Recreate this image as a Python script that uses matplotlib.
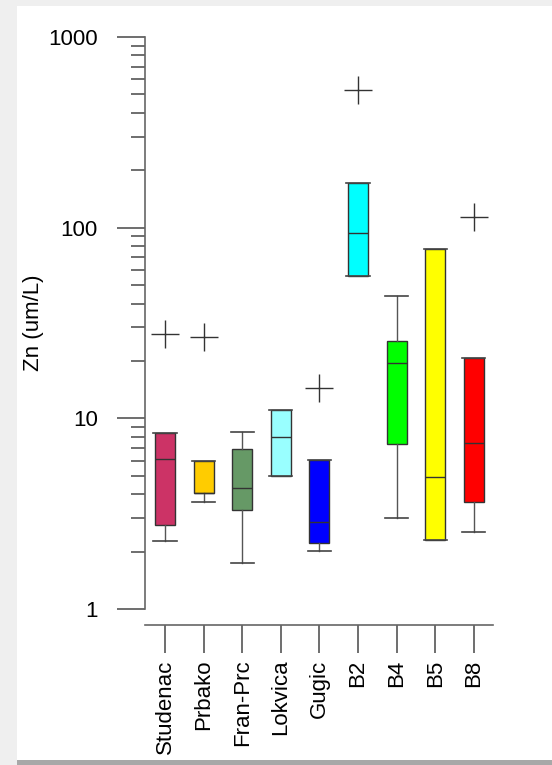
import matplotlib.pyplot as plt
from matplotlib.patches import Rectangle
from matplotlib.ticker import LogLocator, NullFormatter

plt.rcParams['font.family'] = ['Liberation Sans', 'DejaVu Sans']

# Zn summary per site (um/L)
sites = ['Studenac', 'Prbako', 'Fran-Prc', 'Lokvica', 'Gugic', 'B2', 'B4', 'B5', 'B8']
q1 = [2.75, 4.06, 3.31, 5.01, 2.21, 55.7, 7.35, 2.31, 3.66]
med = [6.11, 4.06, 4.30, 8.03, 2.85, 94.2, 19.4, 4.91, 7.44]
q3 = [8.42, 5.98, 6.89, 11.1, 6.03, 172, 25.5, 77.3, 20.8]
whis_lo = [2.27, 3.64, 1.74, 5.01, 2.01, 55.7, 3.01, 2.31, 2.54]
whis_hi = [8.42, 5.98, 8.5, 11.1, 6.03, 172, 43.6, 77.3, 20.8]
outliers = [[27.7], [26.7], [], [], [14.4], [526], [], [], [114]]
colors = ['#cc3366', '#ffcc00', '#669966', '#99ffff', '#0000ff',
          '#00ffff', '#00ff00', '#ffff00', '#ff0000']

stats = []
for i, s in enumerate(sites):
    stats.append({'label': s, 'q1': q1[i], 'med': med[i], 'q3': q3[i],
                  'whislo': whis_lo[i], 'whishi': whis_hi[i],
                  'fliers': outliers[i]})

fig = plt.figure(figsize=(5.52, 7.65), dpi=100)

# grey frame around the white card
fig.patches.append(Rectangle((0, 0), 1, 1, transform=fig.transFigure,
                             facecolor='#efefef', edgecolor='none', zorder=-3))
fig.patches.append(Rectangle((17 / 552, 5 / 765), 1, 1 - 11 / 765,
                             transform=fig.transFigure, facecolor='white',
                             edgecolor='none', zorder=-2))
fig.patches.append(Rectangle((17 / 552, 0), 1, 5 / 765, transform=fig.transFigure,
                             facecolor='#a8a8a8', edgecolor='none', zorder=-2))

ax = fig.add_axes([145 / 552, 156 / 765, 348 / 552, 572 / 765])
ax.patch.set_alpha(0)

bp = ax.bxp(stats, positions=range(1, len(sites) + 1), widths=0.52,
            capwidths=0.6, patch_artist=True, showfliers=True,
            boxprops=dict(edgecolor='#333333', linewidth=1.0),
            medianprops=dict(color='#333333', linewidth=1.0),
            whiskerprops=dict(color='#555555', linewidth=1.0),
            capprops=dict(color='#444444', linewidth=1.2),
            flierprops=dict(marker='+', markersize=20, markeredgewidth=1.0,
                            markeredgecolor='#333333', linestyle='none'))
for box, c in zip(bp['boxes'], colors):
    box.set_facecolor(c)

ax.set_yscale('log')
ax.set_ylim(1, 1000)
ax.set_xlim(0.48, 9.5)
ax.set_yticks([1, 10, 100, 1000], ['1', '10', '100', '1000'])
ax.yaxis.set_minor_locator(LogLocator(base=10, subs=range(2, 10)))
ax.yaxis.set_minor_formatter(NullFormatter())
ax.set_xticks(range(1, len(sites) + 1), sites)

ax.spines['top'].set_visible(False)
ax.spines['right'].set_visible(False)
ax.spines['bottom'].set_position(('outward', 11.5))
for sp in ('left', 'bottom'):
    ax.spines[sp].set_color('#666666')
    ax.spines[sp].set_linewidth(1.2)

ax.tick_params(axis='y', which='major', length=20, width=1.2, color='#555555',
               pad=14, labelsize=16)
ax.tick_params(axis='y', which='minor', length=10, width=1.2, color='#555555')
ax.tick_params(axis='x', which='major', length=20, width=1.2, color='#555555',
               pad=5, labelsize=16, direction='out', labelrotation=90)

ax.set_ylabel('Zn (um/L)', fontsize=16)
ax.yaxis.set_label_coords(-0.29, 0.5)

fig.savefig('out.png', dpi=100)
